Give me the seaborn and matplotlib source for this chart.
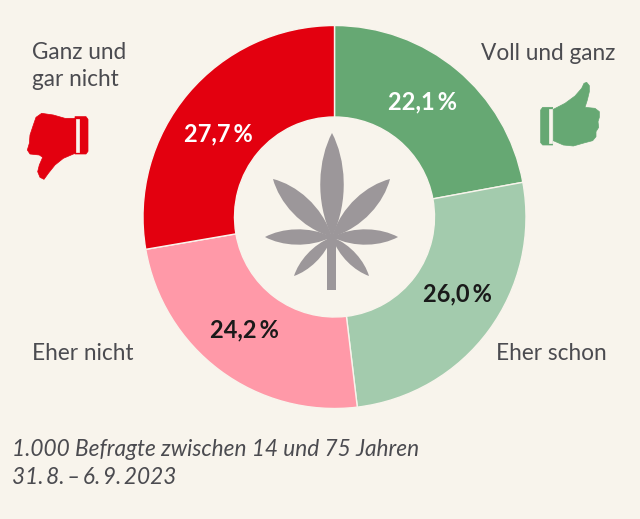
import numpy as np
import pandas as pd
import seaborn as sns
import matplotlib
matplotlib.use("Agg")
import matplotlib.pyplot as plt
from matplotlib.patches import Polygon, PathPatch, Rectangle
from matplotlib.path import Path

categories = ["Voll und ganz", "Eher schon", "Eher nicht", "Ganz und\ngar nicht"]
values = [22.1, 26.0, 24.2, 27.7]
value_labels = ["22,1\u2009%", "26,0\u2009%", "24,2\u2009%", "27,7\u2009%"]
note_lines = ["1.000 Befragte zwischen 14 und 75 Jahren", "31.\u20098.\u2009–\u20096.\u20099.\u20092023"]

BG = "#f8f4ec"
colors = sns.color_palette(["#66a873", "#a3cbad", "#ff99a8", "#e3000f"])
TEXT = "#4b4b50"
LEAF = "#9c979a"

sns.set_theme(style="white", rc={"figure.facecolor": BG, "axes.facecolor": BG})
plt.rcParams["font.family"] = ["Lato", "DejaVu Sans"]

fig = plt.figure(figsize=(6.4, 5.19), dpi=100)
ax = fig.add_axes([0, 0, 1, 1])
ax.set_xlim(0, 640)
ax.set_ylim(0, 519)
ax.axis("off")
Y = lambda y: 519 - y

df = pd.DataFrame({"category": categories, "value": values})
ax.pie(df["value"], colors=colors, startangle=90, counterclock=False,
       radius=191.5, center=(334.5, Y(217)), frame=False,
       wedgeprops=dict(width=91.5, edgecolor=BG, linewidth=1))
ax.set_xlim(0, 640)
ax.set_ylim(0, 519)
ax.set_aspect("auto")

# slice values
val_pos = [(423, 102), (457, 294), (244, 330), (218, 134)]
val_col = ["white", "#1a1a1a", "#1a1a1a", "white"]
for (x, y), s, c in zip(val_pos, value_labels, val_col):
    ax.text(x, Y(y), s, color=c, fontsize=17, fontweight="bold", ha="center", va="center")

# category labels
cat_pos = [(481, 53, "left"), (496, 354, "left"), (32, 354, "left"), (32, 66, "left")]
for (x, y, ha), s in zip(cat_pos, categories):
    ax.text(x, Y(y), s, color=TEXT, fontsize=16.3, ha=ha, va="center", linespacing=1.4)

# note
for y, s in zip((450, 478), note_lines):
    ax.text(12, Y(y), s, color=TEXT, fontsize=16.3, style="italic", ha="left", va="center")

# leaf icon
def leaf(base, tip, hw):
    b = np.array([base[0], Y(base[1])], float)
    t = np.array([tip[0], Y(tip[1])], float)
    d = t - b
    n = np.array([-d[1], d[0]]) / np.hypot(*d)
    c1 = b + d * 0.35 + n * hw * 1.35
    c2 = b + d * 0.75 + n * hw * 1.05
    c3 = b + d * 0.75 - n * hw * 1.05
    c4 = b + d * 0.35 - n * hw * 1.35
    verts = [b, c1, c2, t, c3, c4, b]
    codes = [Path.MOVETO, Path.CURVE4, Path.CURVE4, Path.CURVE4, Path.CURVE4, Path.CURVE4, Path.CURVE4]
    ax.add_patch(PathPatch(Path(verts, codes), fc=LEAF, ec="none", zorder=5))

hub = (332, 237)
leaf(hub, (332, 133), 13)
leaf(hub, (273, 179), 11.5)
leaf(hub, (390, 179), 11.5)
leaf(hub, (265, 237), 8.5)
leaf(hub, (398, 237), 8.5)
leaf(hub, (294, 276), 6.5)
leaf(hub, (369, 276), 6.5)
ax.add_patch(Rectangle((327, Y(290)), 9, 55, fc=LEAF, ec="none", zorder=5))

# thumbs
def zoom_poly(pts, ox, oy, color):
    p = [(ox + x / 3, Y(oy + y / 3)) for x, y in pts]
    ax.add_patch(Polygon(p, closed=True, fc=color, ec=color, lw=0.5, joinstyle="round", zorder=5))

up = [(250, 268), (285, 250), (315, 228), (335, 205), (342, 190), (350, 187), (358, 197),
      (358, 215), (352, 240), (345, 262), (375, 265), (388, 275), (388, 292), (384, 305),
      (386, 322), (378, 335), (378, 350), (368, 362), (345, 368), (310, 378), (280, 375), (250, 362)]
up_cuff = [(218, 262), (248, 262), (248, 375), (218, 375), (212, 368), (212, 270)]
zoom_poly(up, 470, 20, colors[0])
zoom_poly(up_cuff, 470, 20, colors[0])
zoom_poly([(237, 268), (247, 268), (247, 370), (237, 370)], 470, 20, BG)

down = [(225, 295), (195, 295), (160, 285), (125, 280), (108, 292), (100, 315), (90, 345),
        (88, 370), (82, 390), (90, 402), (118, 405), (128, 412), (118, 435), (113, 455),
        (120, 472), (132, 478), (145, 460), (165, 435), (190, 415), (225, 400)]
down_cuff = [(225, 290), (258, 290), (264, 298), (264, 394), (258, 402), (225, 402)]
zoom_poly(down, 0, 20, colors[3])
zoom_poly(down_cuff, 0, 20, colors[3])
zoom_poly([(228, 297), (238, 297), (238, 396), (228, 396)], 0, 20, BG)

fig.savefig("out.png", dpi=100, facecolor=BG)
